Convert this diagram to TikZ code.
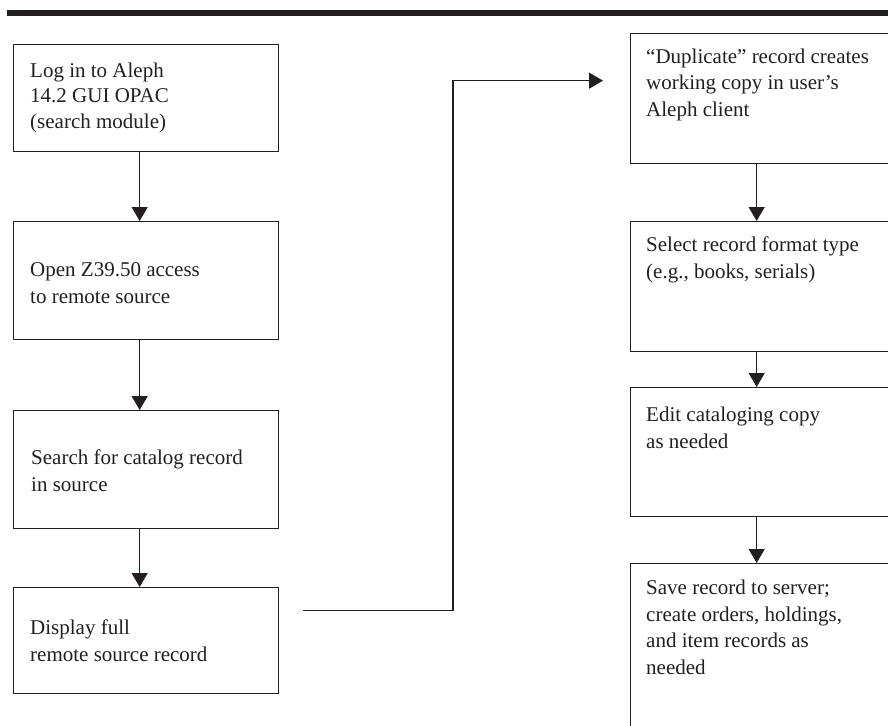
\documentclass[tikz,border=0pt]{standalone}
\usepackage{fontspec}
\setmainfont{Liberation Serif}
\usetikzlibrary{arrows.meta}
\definecolor{ink}{HTML}{231F20}
\begin{document}
\begin{tikzpicture}[x=1pt,y=-1pt,
  box/.style={draw=ink, line width=1.3pt, anchor=north west, inner sep=0pt, minimum width=265pt},
  txt/.style={anchor=base west, align=left, inner sep=0pt, text=ink, font=\fontsize{21}{26.5}\selectfont},
  arr/.style={draw=ink, line width=1.3pt, -{Triangle[length=14pt,width=16pt]}}]
\useasboundingbox (0,0) rectangle (888,725);
\clip (0,0) rectangle (888,725);

% heading rule
\fill[ink] (7,10) rectangle (888,15.7);

% left column
\node[box, minimum height=107pt] (b1) at (13,44) {};
\node[box, minimum height=118pt] (b2) at (13,221) {};
\node[box, minimum height=118pt] (b3) at (13,410) {};
\node[box, minimum height=106pt] (b4) at (13,587) {};

% right column
\node[box, minimum height=130pt] (b5) at (630,33) {};
\node[box, minimum height=130pt] (b6) at (630,221) {};
\node[box, minimum height=129pt] (b7) at (630,387) {};
\node[box, minimum height=200pt] (b8) at (630,563) {};

% step texts (anchored at the baseline of their last line)
\node[txt, font=\fontsize{21}{25.5}\selectfont] (t1) at (30,128) {Log in to Aleph\\14.2 GUI OPAC\\(search module)};
\node[txt] (t2) at (30,303) {Open Z39.50 access\\to remote source};
\node[txt] (t3) at (31,491) {Search for catalog record\\in source};
\node[txt] (t4) at (30,661) {Display full\\remote source record};
\node[txt] (t5) at (646,116) {“Duplicate” record creates\\working copy in user’s\\Aleph client};
\node[txt] (t6) at (646,278) {Select record format type\\(e.g., books, serials)};
\node[txt] (t7) at (646,448) {Edit cataloging copy\\as needed};
\node[txt] (t8) at (646,674) {Save record to server;\\create orders, holdings,\\and item records as\\needed};

% connectors
\draw[arr] ([xshift=-6.5pt]b1.south) -- ([xshift=-6.5pt]b2.north);
\draw[arr] ([xshift=-6.5pt]b2.south) -- ([xshift=-6.5pt]b3.north);
\draw[arr] ([xshift=-6.5pt]b3.south) -- ([xshift=-6.5pt]b4.north);
\draw[arr] ([xshift=-6.5pt]b5.south) -- ([xshift=-6.5pt]b6.north);
\draw[arr] ([xshift=-6.5pt]b6.south) -- ([xshift=-6.5pt]b7.north);
\draw[arr] ([xshift=-6.5pt]b7.south) -- ([xshift=-6.5pt]b8.north);

\coordinate (s) at ([xshift=24pt,yshift=30pt]b4.east);
\coordinate (e) at ([xshift=-27pt,yshift=18pt]b5.west);
\coordinate (mid) at (453,0);
\draw[arr] (s) -- (s -| mid) -- (e -| mid) -- (e);
\end{tikzpicture}
\end{document}
